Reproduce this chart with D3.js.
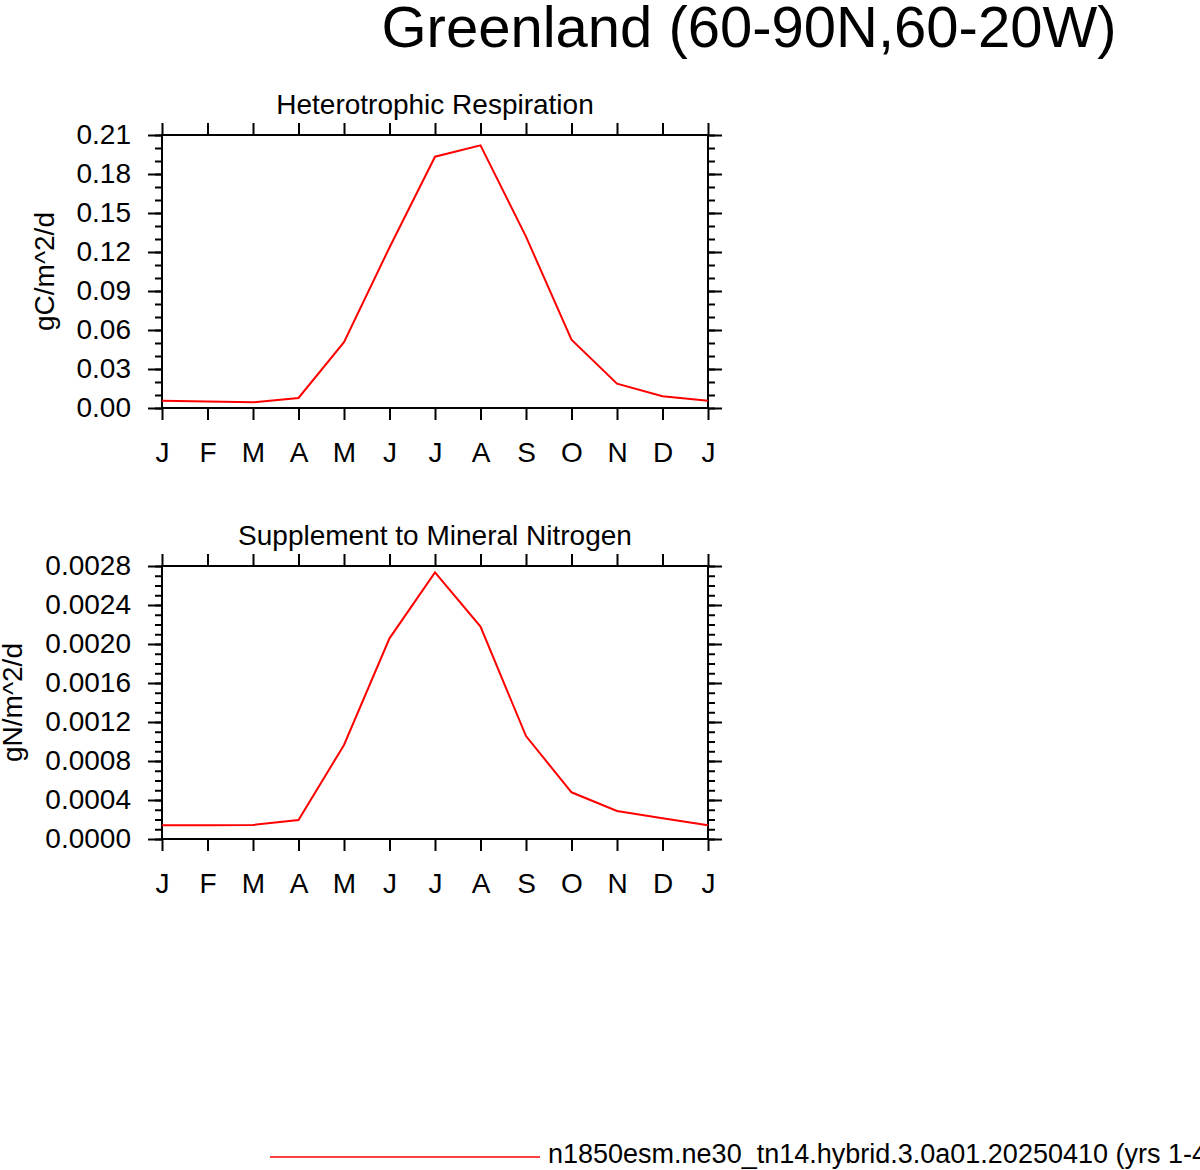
<!DOCTYPE html>
<html>
<head>
<meta charset="utf-8">
<script src="https://cdn.jsdelivr.net/npm/d3@7"></script>
<style>
  body { margin: 0; background: #fff; }
  svg { display: block; font-family: "Liberation Sans", Arial, sans-serif; }
</style>
</head>
<body>
<div id="chart"></div>
<script>
// month labels (J..J wraps round to next January)
const months = ["J", "F", "M", "A", "M", "J", "J", "A", "S", "O", "N", "D", "J"];

const hrValues = [0.0056, 0.0050, 0.0044, 0.0077, 0.0507, 0.1235, 0.1933, 0.2020, 0.1318, 0.0525, 0.0187, 0.0090, 0.0056];
const hrTicks = [0, 0.03, 0.06, 0.09, 0.12, 0.15, 0.18, 0.21];

const smnValues = [0.000140, 0.000141, 0.000144, 0.000195, 0.000964, 0.002058, 0.002735, 0.002178, 0.001056, 0.000479, 0.000287, 0.000212, 0.000140];
const smnTicks = [0, 0.0004, 0.0008, 0.0012, 0.0016, 0.0020, 0.0024, 0.0028];

const panels = [
  { title: "Heterotrophic Respiration", units: "gC/m^2/d", values: hrValues, ticks: hrTicks,
    max: 0.21, minorStep: 0.01, fmt: d3.format(".2f"), top: 135, labelX: 54 },
  { title: "Supplement to Mineral Nitrogen", units: "gN/m^2/d", values: smnValues, ticks: smnTicks,
    max: 0.0028, minorStep: 0.0001, fmt: d3.format(".4f"), top: 566, labelX: 22 }
];

const width = 1200, height = 1170;
const plotLeft = 162, plotRight = 708, plotH = 273;

const svg = d3.select("#chart").append("svg")
  .attr("width", width)
  .attr("height", height);

svg.append("text")
  .attr("x", 749)
  .attr("y", 47)
  .attr("text-anchor", "middle")
  .style("font-size", "58px")
  .text("Greenland (60-90N,60-20W)");

const x = d3.scaleLinear().domain([0, 12]).range([plotLeft, plotRight]);

panels.forEach(p => {
  const y = d3.scaleLinear().domain([0, p.max]).range([p.top + plotH, p.top]);
  const g = svg.append("g");

  const minors = d3.range(0, p.max + p.minorStep / 2, p.minorStep);

  // minor y ticks, left and right
  g.append("g")
    .attr("transform", `translate(${plotLeft},0)`)
    .call(d3.axisLeft(y).tickValues(minors).tickSize(7).tickFormat(""));
  g.append("g")
    .attr("transform", `translate(${plotRight},0)`)
    .call(d3.axisRight(y).tickValues(minors).tickSize(7).tickFormat(""));

  // major y ticks
  g.append("g")
    .attr("transform", `translate(${plotLeft},0)`)
    .call(d3.axisLeft(y).tickValues(p.ticks).tickSize(14).tickPadding(17).tickFormat(p.fmt));
  g.append("g")
    .attr("transform", `translate(${plotRight},0)`)
    .call(d3.axisRight(y).tickValues(p.ticks).tickSize(14).tickFormat(""));

  // month ticks top and bottom
  g.append("g")
    .attr("transform", `translate(0,${p.top})`)
    .call(d3.axisTop(x).tickValues(d3.range(13)).tickSize(12).tickFormat(""));
  g.append("g")
    .attr("transform", `translate(0,${p.top + plotH})`)
    .call(d3.axisBottom(x).tickValues(d3.range(13)).tickSize(12).tickPadding(22)
      .tickFormat(i => months[i]));

  g.selectAll(".domain").remove();
  g.selectAll(".tick line").attr("stroke", "#000").attr("stroke-width", 2);
  g.selectAll(".tick text").attr("fill", "#000").style("font-size", "28px");

  // frame
  g.append("rect")
    .attr("x", plotLeft)
    .attr("y", p.top)
    .attr("width", plotRight - plotLeft)
    .attr("height", plotH)
    .attr("fill", "none")
    .attr("stroke", "#000")
    .attr("stroke-width", 2);

  const line = d3.line()
    .x((d, i) => x(i))
    .y(d => y(d));

  g.append("path")
    .datum(p.values)
    .attr("d", line)
    .attr("fill", "none")
    .attr("stroke", "#ff0000")
    .attr("stroke-width", 2);

  g.append("text")
    .attr("x", (plotLeft + plotRight) / 2)
    .attr("y", p.top - 21)
    .attr("text-anchor", "middle")
    .style("font-size", "28px")
    .text(p.title);

  g.append("text")
    .attr("transform", `translate(${p.labelX},${p.top + plotH / 2}) rotate(-90)`)
    .attr("text-anchor", "middle")
    .style("font-size", "28px")
    .text(p.units);
});

// legend
svg.append("line")
  .attr("x1", 270).attr("x2", 540)
  .attr("y1", 1157).attr("y2", 1157)
  .attr("stroke", "#ff0000")
  .attr("stroke-width", 1.5);

svg.append("text")
  .attr("x", 548)
  .attr("y", 1163)
  .style("font-size", "27px")
  .text("n1850esm.ne30_tn14.hybrid.3.0a01.20250410 (yrs 1-40)");
</script>
</body>
</html>
